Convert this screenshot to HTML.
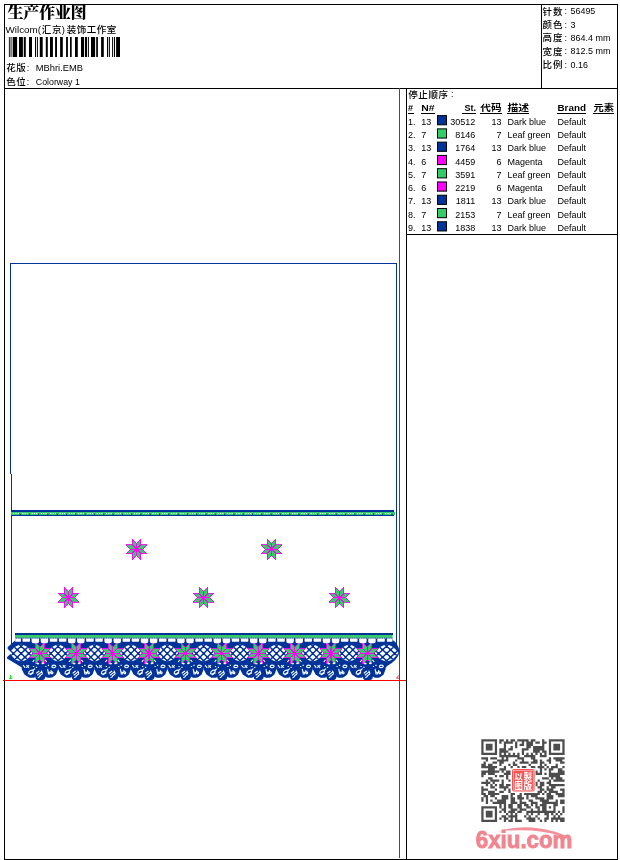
<!DOCTYPE html>
<html lang="zh"><head><meta charset="utf-8"><title>生产作业图</title>
<style>
html,body{margin:0;padding:0;background:#fff}
body{width:620px;height:860px;position:relative;overflow:hidden;font-family:"Liberation Sans","Noto Sans CJK SC",sans-serif}
svg.pg{position:absolute;left:0;top:0;font-family:"Liberation Sans","Noto Sans CJK SC",sans-serif}
svg.pg .ttl{font-family:"Liberation Serif","Noto Serif CJK SC",serif}
</style></head><body>
<svg width="620" height="860" viewBox="0 0 620 860" class="pg" fill="#000"><g shape-rendering="crispEdges" fill="none" stroke-width="1">
<rect x="4.5" y="4.5" width="613" height="855" stroke="#000"/>
<path d="M4 88.5H618M541.5 4V88M406.5 88V859M406 234.5H618" stroke="#000"/>
<path d="M399.5 88V858M3 680.5H406" stroke="#ff0000"/>
<path d="M10.5 474V263M10 263.5H397M396.5 263V650" stroke="#003399"/>
<path d="M11.5 474V644" stroke="#003399"/>
</g>
<defs>
<g id="star" shape-rendering="crispEdges"><path d="M0 0L6.25 0.00L10.67 4.42L4.42 4.42ZM0 0L4.42 4.42L4.42 10.67L0.00 6.25ZM0 0L0.00 6.25L-4.42 10.67L-4.42 4.42ZM0 0L-4.42 4.42L-10.67 4.42L-6.25 0.00ZM0 0L-6.25 0.00L-10.67 -4.42L-4.42 -4.42ZM0 0L-4.42 -4.42L-4.42 -10.67L-0.00 -6.25ZM0 0L-0.00 -6.25L4.42 -10.67L4.42 -4.42ZM0 0L4.42 -4.42L10.67 -4.42L6.25 -0.00Z" fill="#33cc66" stroke="#ff00ff" stroke-width="0.9" stroke-linejoin="miter"/><path d="M0 0L5.62 0.00M0 0L3.98 3.98M0 0L0.00 5.62M0 0L-3.98 3.98M0 0L-5.62 0.00M0 0L-3.98 -3.98M0 0L-0.00 -5.62M0 0L3.98 -3.98" stroke="#ff00ff" stroke-width="1.15" fill="none"/></g>
<clipPath id="lc"><path d="M-10.9 0C-7.85 -4.26 -4.58 -8.2 0 -8.2C4.58 -8.2 7.85 -4.26 10.9 0C7.85 4.26 4.58 8.2 0 8.2C-4.58 8.2 -7.85 4.26 -10.9 0Z"/></clipPath>
<g id="lens"><path d="M-10.9 0C-7.85 -4.26 -4.58 -8.2 0 -8.2C4.58 -8.2 7.85 -4.26 10.9 0C7.85 4.26 4.58 8.2 0 8.2C-4.58 8.2 -7.85 4.26 -10.9 0Z" fill="#fff"/><g clip-path="url(#lc)" stroke="#003399" stroke-width="1.4" fill="#003399"><path d="M-34.40 -12.00L-10.40 12.00M-9.40 -12.00L-33.40 12.00M-27.10 -12.00L-3.10 12.00M-2.10 -12.00L-26.10 12.00M-19.80 -12.00L4.20 12.00M5.20 -12.00L-18.80 12.00M-12.50 -12.00L11.50 12.00M12.50 -12.00L-11.50 12.00M-5.20 -12.00L18.80 12.00M19.80 -12.00L-4.20 12.00M2.10 -12.00L26.10 12.00M27.10 -12.00L3.10 12.00M9.40 -12.00L33.40 12.00M34.40 -12.00L10.40 12.00" fill="none"/><path d="M-23.05 -0.65h2.3v2.3h-2.3zM-19.40 -4.30h2.3v2.3h-2.3zM-15.75 -7.95h2.3v2.3h-2.3zM-12.10 -11.60h2.3v2.3h-2.3zM-8.45 -15.25h2.3v2.3h-2.3zM-4.80 -18.90h2.3v2.3h-2.3zM-1.15 -22.55h2.3v2.3h-2.3zM-19.40 3.00h2.3v2.3h-2.3zM-15.75 -0.65h2.3v2.3h-2.3zM-12.10 -4.30h2.3v2.3h-2.3zM-8.45 -7.95h2.3v2.3h-2.3zM-4.80 -11.60h2.3v2.3h-2.3zM-1.15 -15.25h2.3v2.3h-2.3zM2.50 -18.90h2.3v2.3h-2.3zM-15.75 6.65h2.3v2.3h-2.3zM-12.10 3.00h2.3v2.3h-2.3zM-8.45 -0.65h2.3v2.3h-2.3zM-4.80 -4.30h2.3v2.3h-2.3zM-1.15 -7.95h2.3v2.3h-2.3zM2.50 -11.60h2.3v2.3h-2.3zM6.15 -15.25h2.3v2.3h-2.3zM-12.10 10.30h2.3v2.3h-2.3zM-8.45 6.65h2.3v2.3h-2.3zM-4.80 3.00h2.3v2.3h-2.3zM-1.15 -0.65h2.3v2.3h-2.3zM2.50 -4.30h2.3v2.3h-2.3zM6.15 -7.95h2.3v2.3h-2.3zM9.80 -11.60h2.3v2.3h-2.3zM-8.45 13.95h2.3v2.3h-2.3zM-4.80 10.30h2.3v2.3h-2.3zM-1.15 6.65h2.3v2.3h-2.3zM2.50 3.00h2.3v2.3h-2.3zM6.15 -0.65h2.3v2.3h-2.3zM9.80 -4.30h2.3v2.3h-2.3zM13.45 -7.95h2.3v2.3h-2.3zM-4.80 17.60h2.3v2.3h-2.3zM-1.15 13.95h2.3v2.3h-2.3zM2.50 10.30h2.3v2.3h-2.3zM6.15 6.65h2.3v2.3h-2.3zM9.80 3.00h2.3v2.3h-2.3zM13.45 -0.65h2.3v2.3h-2.3zM17.10 -4.30h2.3v2.3h-2.3zM-1.15 21.25h2.3v2.3h-2.3zM2.50 17.60h2.3v2.3h-2.3zM6.15 13.95h2.3v2.3h-2.3zM9.80 10.30h2.3v2.3h-2.3zM13.45 6.65h2.3v2.3h-2.3zM17.10 3.00h2.3v2.3h-2.3zM20.75 -0.65h2.3v2.3h-2.3z" stroke="none"/></g></g>
<path id="scal" d="M-18.20 662V669.3L-15.5 674.4L-11.3 677.2Q-10.5 677.7 -9.5 677.7H-6.6Q-5 677.7 -4.7 676.4Q-4.4 680 -1.4 680H2.6Q5.2 680 5.5 676.6Q6 677.7 8 677.7H10.6Q12.2 677.7 13.4 676.7L16.2 674.6L18.20 669.3V662Z" fill="#003399"/>
<g id="unit"><path d="M-8.30 638.6H-0.8V641.2Q-0.8 643.2 -2.8 643.2H-6.30Q-8.30 643.2 -8.30 641.2ZM0.8 638.6H8.30V641.2Q8.30 643.2 6.30 643.2H2.8Q0.8 643.2 0.8 641.2ZM-17.39 638.6H-9.90V641.1Q-9.90 641.7 -10.50 641.7H-16.80Q-17.39 641.7 -17.39 641.1ZM9.90 638.6H17.39V641.1Q17.39 641.7 16.80 641.7H10.50Q9.90 641.7 9.90 641.1Z" fill="#fff" transform="translate(0,-653.3)"/><path d="M-6.9 8.3l1-1.4M5.4 6.9l1.1 1.3M-16.4 12.2l1.4 1.8M-13.4 13.9l2.2-1.6M-13 12.3l1.6 1.8M-6.4 13.2h.1M-3.5 14.1h.1M6 13.2h.1M8.5 12.1h.1M15.6 12.2q-2.4-1-3.4 .4q-.8 1.6 1.4 1.8q1.6 0 2.2-1.2M-11.2 20.2q-.4-2 1.8-3q2.4-1 2.8 .4q.2 1.6-2 2.6q-2.2 .9-2.6 0M-9.6 21.4l2.8-1.6M-6.2 16.4l1 -.8M-3.2 19.6l2.2-1.6M-2.2 21.6l3.6-2.8M-0.4 22.8l2.4-1.8M-1.6 24.2l1.4-1M1.6 17.8l.8 2.2M7.8 16.2l.8 4.4q1.6 .6 1.6-1q-.2-1.2-1.6-.6M11.2 17.4q-.6 1.8 .6 3q1.4 .2 1.2-1.2q-.4-1-1.6-.6" stroke="#fff" stroke-width="1.1" fill="none" stroke-linecap="square"/><path d="M-3.6 9.7l1-.5 1.6 .4 .3 1.1-1.2 .5-1.6-.5zM1.5 10.2l.4-1 1.6-.3 .8 .6-.4 1.1-1.6 .3z" fill="#fff"/></g>
</defs>
<g shape-rendering="crispEdges">
<rect x="11" y="510" width="383" height="2" fill="#003399"/>
<rect x="11" y="512" width="384" height="3" fill="#33cc66"/>
<rect x="11" y="515" width="383" height="1" fill="#003399"/>
</g>
<path d="M13 513.5H394" stroke="#fff" stroke-width="1" stroke-dasharray="1.1 1.25 1.1 1.25 1.1 3.5" fill="none"/>
<path d="M20.6 514V516" stroke="#003399" stroke-width="1" stroke-dasharray="none" fill="none" id="tk"/>
<path d="M20.0 513.6V515.5M29.3 513.6V515.5M38.6 513.6V515.5M47.9 513.6V515.5M57.2 513.6V515.5M66.5 513.6V515.5M75.8 513.6V515.5M85.1 513.6V515.5M94.4 513.6V515.5M103.7 513.6V515.5M113.0 513.6V515.5M122.3 513.6V515.5M131.6 513.6V515.5M140.9 513.6V515.5M150.2 513.6V515.5M159.5 513.6V515.5M168.8 513.6V515.5M178.1 513.6V515.5M187.4 513.6V515.5M196.7 513.6V515.5M206.0 513.6V515.5M215.3 513.6V515.5M224.6 513.6V515.5M233.9 513.6V515.5M243.2 513.6V515.5M252.5 513.6V515.5M261.8 513.6V515.5M271.1 513.6V515.5M280.4 513.6V515.5M289.7 513.6V515.5M299.0 513.6V515.5M308.3 513.6V515.5M317.6 513.6V515.5M326.9 513.6V515.5M336.2 513.6V515.5M345.5 513.6V515.5M354.8 513.6V515.5M364.1 513.6V515.5M373.4 513.6V515.5M382.7 513.6V515.5M392.0 513.6V515.5" stroke="#003399" stroke-width="1" fill="none"/>
<use href="#star" x="136.5" y="549.3"/>
<use href="#star" x="271.5" y="549.3"/>
<use href="#star" x="68.5" y="597.7"/>
<use href="#star" x="203.5" y="597.7"/>
<use href="#star" x="339.5" y="597.7"/>
<g>
<rect x="15" y="633" width="377.6" height="2" fill="#003399" shape-rendering="crispEdges"/>
<rect x="15" y="635" width="377.6" height="2.9" fill="#33cc66"/>
<path d="M15 637.8H392.6V640C395.5 641.5 398.6 645.5 399.7 651.6C398.8 657 394 662.5 387 666L386 667.5H22L7 658.4V657.2L11.5 652.8L7.6 648.8V647.2L15 640.6Z" fill="#003399"/>
<path d="M15 638.25H392.6" stroke="#fff" stroke-width="0.7" stroke-dasharray="0.8 1.5" fill="none"/>
<use href="#scal" x="39.90"/>
<use href="#scal" x="76.29"/>
<use href="#scal" x="112.68"/>
<use href="#scal" x="149.07"/>
<use href="#scal" x="185.46"/>
<use href="#scal" x="221.85"/>
<use href="#scal" x="258.24"/>
<use href="#scal" x="294.63"/>
<use href="#scal" x="331.02"/>
<use href="#scal" x="367.41"/>
<use href="#lens" transform="translate(21.10,653.0) scale(1.06,1)"/>
<use href="#lens" x="58.09" y="653.0"/>
<use href="#lens" x="94.48" y="653.0"/>
<use href="#lens" x="130.88" y="653.0"/>
<use href="#lens" x="167.26" y="653.0"/>
<use href="#lens" x="203.65" y="653.0"/>
<use href="#lens" x="240.05" y="653.0"/>
<use href="#lens" x="276.44" y="653.0"/>
<use href="#lens" x="312.82" y="653.0"/>
<use href="#lens" x="349.21" y="653.0"/>
<use href="#lens" transform="translate(386.60,653.0) scale(1.09,1)"/>
<path d="M15.2 638.6H20.9V641.7H15.2zM386.9 638.6H392.4V641.7H386.9z" fill="#fff"/>
<use href="#star" x="39.90" y="653.3"/>
<use href="#unit" x="39.90" y="653.3"/>
<use href="#star" x="76.29" y="653.3"/>
<use href="#unit" x="76.29" y="653.3"/>
<use href="#star" x="112.68" y="653.3"/>
<use href="#unit" x="112.68" y="653.3"/>
<use href="#star" x="149.07" y="653.3"/>
<use href="#unit" x="149.07" y="653.3"/>
<use href="#star" x="185.46" y="653.3"/>
<use href="#unit" x="185.46" y="653.3"/>
<use href="#star" x="221.85" y="653.3"/>
<use href="#unit" x="221.85" y="653.3"/>
<use href="#star" x="258.24" y="653.3"/>
<use href="#unit" x="258.24" y="653.3"/>
<use href="#star" x="294.63" y="653.3"/>
<use href="#unit" x="294.63" y="653.3"/>
<use href="#star" x="331.02" y="653.3"/>
<use href="#unit" x="331.02" y="653.3"/>
<use href="#star" x="367.41" y="653.3"/>
<use href="#unit" x="367.41" y="653.3"/>
<path d="M10.5 675V678.5M9 678.5H12.2" stroke="#00ff00" stroke-width="1" fill="none" shape-rendering="crispEdges"/>
<path d="M398.8 675.4L396.6 678.2H399" stroke="#ff0000" stroke-width="0.8" fill="none"/>
</g>
<g class="cj">
<text x="7.5" y="18.2" font-size="16.2" font-weight="900" letter-spacing="-0.45" class="ttl">生产作业图</text>
<text x="5.6" y="33" font-size="9.5" textLength="35.4" lengthAdjust="spacingAndGlyphs">Wilcom(</text>
<text x="41.7" y="33" font-size="9.5" font-weight="500" letter-spacing="0.80">汇京</text>
<text x="61.8" y="33" font-size="9.5">)</text>
<text x="66.8" y="33" font-size="9.5" font-weight="500" letter-spacing="0.50">装饰工作室</text>
<text x="6.3" y="71.3" font-size="9.5" font-weight="500" letter-spacing="0.50">花版</text>
<text x="26.8" y="70.9" font-size="9">:</text>
<text x="35.8" y="70.9" font-size="9" textLength="47.2" lengthAdjust="spacingAndGlyphs">MBhri.EMB</text>
<text x="6.3" y="85" font-size="9.5" font-weight="500" letter-spacing="0.50">色位</text>
<text x="26.8" y="84.6" font-size="9">:</text>
<text x="35.8" y="84.6" font-size="9" textLength="44" lengthAdjust="spacingAndGlyphs">Colorway 1</text>
<text x="542.5" y="14.5" font-size="9.5" font-weight="500" letter-spacing="0.90">针数</text>
<text x="564.5" y="14.2" font-size="9">:</text>
<text x="570.6" y="14.2" font-size="9" textLength="24.7" lengthAdjust="spacingAndGlyphs">56495</text>
<text x="542.5" y="27.8" font-size="9.5" font-weight="500" letter-spacing="0.90">颜色</text>
<text x="564.5" y="27.5" font-size="9">:</text>
<text x="570.6" y="27.5" font-size="9">3</text>
<text x="542.5" y="41.2" font-size="9.5" font-weight="500" letter-spacing="0.90">高度</text>
<text x="564.5" y="40.9" font-size="9">:</text>
<text x="570.6" y="40.9" font-size="9" textLength="39.9" lengthAdjust="spacingAndGlyphs">864.4 mm</text>
<text x="542.5" y="54.5" font-size="9.5" font-weight="500" letter-spacing="0.90">宽度</text>
<text x="564.5" y="54.2" font-size="9">:</text>
<text x="570.6" y="54.2" font-size="9" textLength="39.9" lengthAdjust="spacingAndGlyphs">812.5 mm</text>
<text x="542.5" y="67.8" font-size="9.5" font-weight="500" letter-spacing="0.90">比例</text>
<text x="564.5" y="67.5" font-size="9">:</text>
<text x="570.6" y="67.5" font-size="9" textLength="17.4" lengthAdjust="spacingAndGlyphs">0.16</text>
</g>
<path d="M8.9 37H9.8V57H8.9ZM10.6 37H11.5V57H10.6ZM12.7 37H17.1V57H12.7ZM19.0 37H22.9V57H19.0ZM23.8 37H25.8V57H23.8ZM29.0 37H32.0V57H29.0ZM35.0 37H36.0V57H35.0ZM36.9 37H37.9V57H36.9ZM39.8 37H42.7V57H39.8ZM45.8 37H47.8V57H45.8ZM50.0 37H52.9V57H50.0ZM55.1 37H57.0V57H55.1ZM60.1 37H62.8V57H60.1ZM66.1 37H67.9V57H66.1ZM70.0 37H71.7V57H70.0ZM75.0 37H77.8V57H75.0ZM81.0 37H84.1V57H81.0ZM85.0 37H87.0V57H85.0ZM87.9 37H88.9V57H87.9ZM91.0 37H95.1V57H91.0ZM96.2 37H97.9V57H96.2ZM101.1 37H103.8V57H101.1ZM107.0 37H108.0V57H107.0ZM108.8 37H109.9V57H108.8ZM112.1 37H113.1V57H112.1ZM114.0 37H115.0V57H114.0ZM116.1 37H120.0V57H116.1Z" fill="#000"/>
<g class="cj">
<text x="408.2" y="97.6" font-size="9.5" font-weight="500" letter-spacing="0.60">停止顺序</text>
<text x="451" y="97.2" font-size="9">:</text>
<g font-weight="bold">
<text x="408" y="111" font-size="9">#</text>
<text x="421.2" y="111" font-size="9" textLength="13.3" lengthAdjust="spacingAndGlyphs">N#</text>
<text x="476" y="111" font-size="9" text-anchor="end">St.</text>
<text x="480.3" y="111" font-size="9" textLength="21.3" lengthAdjust="spacingAndGlyphs">代码</text>
<text x="507.4" y="111" font-size="9" textLength="21.6" lengthAdjust="spacingAndGlyphs">描述</text>
<text x="557.5" y="111" font-size="9" textLength="28.5" lengthAdjust="spacingAndGlyphs">Brand</text>
<text x="593.5" y="111" font-size="9" textLength="20.5" lengthAdjust="spacingAndGlyphs">元素</text>
</g>
<path d="M408 113.5H414M421 113.5H435M462 113.5H476M480 113.5H502M507 113.5H529M557 113.5H586M593 113.5H614" stroke="#000" stroke-width="1" shape-rendering="crispEdges"/>
<text x="408" y="124.8" font-size="9">1.</text>
<text x="421.2" y="124.8" font-size="9">13</text>
<rect x="437.5" y="115.60" width="9" height="9.2" fill="#003399" stroke="#000" stroke-width="1"/>
<text x="475.2" y="124.8" font-size="9" text-anchor="end">30512</text>
<text x="501.4" y="124.8" font-size="9" text-anchor="end">13</text>
<text x="507.4" y="124.8" font-size="9">Dark blue</text>
<text x="557.5" y="124.8" font-size="9">Default</text>
<text x="408" y="138.1" font-size="9">2.</text>
<text x="421.2" y="138.1" font-size="9">7</text>
<rect x="437.5" y="128.87" width="9" height="9.2" fill="#33cc66" stroke="#000" stroke-width="1"/>
<text x="475.2" y="138.1" font-size="9" text-anchor="end">8146</text>
<text x="501.4" y="138.1" font-size="9" text-anchor="end">7</text>
<text x="507.4" y="138.1" font-size="9">Leaf green</text>
<text x="557.5" y="138.1" font-size="9">Default</text>
<text x="408" y="151.3" font-size="9">3.</text>
<text x="421.2" y="151.3" font-size="9">13</text>
<rect x="437.5" y="142.14" width="9" height="9.2" fill="#003399" stroke="#000" stroke-width="1"/>
<text x="475.2" y="151.3" font-size="9" text-anchor="end">1764</text>
<text x="501.4" y="151.3" font-size="9" text-anchor="end">13</text>
<text x="507.4" y="151.3" font-size="9">Dark blue</text>
<text x="557.5" y="151.3" font-size="9">Default</text>
<text x="408" y="164.6" font-size="9">4.</text>
<text x="421.2" y="164.6" font-size="9">6</text>
<rect x="437.5" y="155.41" width="9" height="9.2" fill="#ff00ff" stroke="#000" stroke-width="1"/>
<text x="475.2" y="164.6" font-size="9" text-anchor="end">4459</text>
<text x="501.4" y="164.6" font-size="9" text-anchor="end">6</text>
<text x="507.4" y="164.6" font-size="9">Magenta</text>
<text x="557.5" y="164.6" font-size="9">Default</text>
<text x="408" y="177.8" font-size="9">5.</text>
<text x="421.2" y="177.8" font-size="9">7</text>
<rect x="437.5" y="168.68" width="9" height="9.2" fill="#33cc66" stroke="#000" stroke-width="1"/>
<text x="475.2" y="177.8" font-size="9" text-anchor="end">3591</text>
<text x="501.4" y="177.8" font-size="9" text-anchor="end">7</text>
<text x="507.4" y="177.8" font-size="9">Leaf green</text>
<text x="557.5" y="177.8" font-size="9">Default</text>
<text x="408" y="191.1" font-size="9">6.</text>
<text x="421.2" y="191.1" font-size="9">6</text>
<rect x="437.5" y="181.95" width="9" height="9.2" fill="#ff00ff" stroke="#000" stroke-width="1"/>
<text x="475.2" y="191.1" font-size="9" text-anchor="end">2219</text>
<text x="501.4" y="191.1" font-size="9" text-anchor="end">6</text>
<text x="507.4" y="191.1" font-size="9">Magenta</text>
<text x="557.5" y="191.1" font-size="9">Default</text>
<text x="408" y="204.4" font-size="9">7.</text>
<text x="421.2" y="204.4" font-size="9">13</text>
<rect x="437.5" y="195.22" width="9" height="9.2" fill="#003399" stroke="#000" stroke-width="1"/>
<text x="475.2" y="204.4" font-size="9" text-anchor="end">1811</text>
<text x="501.4" y="204.4" font-size="9" text-anchor="end">13</text>
<text x="507.4" y="204.4" font-size="9">Dark blue</text>
<text x="557.5" y="204.4" font-size="9">Default</text>
<text x="408" y="217.6" font-size="9">8.</text>
<text x="421.2" y="217.6" font-size="9">7</text>
<rect x="437.5" y="208.49" width="9" height="9.2" fill="#33cc66" stroke="#000" stroke-width="1"/>
<text x="475.2" y="217.6" font-size="9" text-anchor="end">2153</text>
<text x="501.4" y="217.6" font-size="9" text-anchor="end">7</text>
<text x="507.4" y="217.6" font-size="9">Leaf green</text>
<text x="557.5" y="217.6" font-size="9">Default</text>
<text x="408" y="230.9" font-size="9">9.</text>
<text x="421.2" y="230.9" font-size="9">13</text>
<rect x="437.5" y="221.76" width="9" height="9.2" fill="#003399" stroke="#000" stroke-width="1"/>
<text x="475.2" y="230.9" font-size="9" text-anchor="end">1838</text>
<text x="501.4" y="230.9" font-size="9" text-anchor="end">13</text>
<text x="507.4" y="230.9" font-size="9">Dark blue</text>
<text x="557.5" y="230.9" font-size="9">Default</text>
</g>
<path d="M481.30 739.30h15.76v2.23h-15.76zM499.31 739.30h4.50v2.23h-4.50zM506.06 739.30h2.25v2.23h-2.25zM510.57 739.30h4.50v2.23h-4.50zM517.32 739.30h11.26v2.23h-11.26zM530.83 739.30h4.50v2.23h-4.50zM542.09 739.30h2.25v2.23h-2.25zM548.84 739.30h15.76v2.23h-15.76zM481.30 741.53h2.25v2.23h-2.25zM494.81 741.53h2.25v2.23h-2.25zM499.31 741.53h2.25v2.23h-2.25zM503.81 741.53h9.01v2.23h-9.01zM515.07 741.53h2.25v2.23h-2.25zM521.82 741.53h2.25v2.23h-2.25zM526.33 741.53h6.75v2.23h-6.75zM535.33 741.53h4.50v2.23h-4.50zM542.09 741.53h4.50v2.23h-4.50zM548.84 741.53h2.25v2.23h-2.25zM562.35 741.53h2.25v2.23h-2.25zM481.30 743.76h2.25v2.23h-2.25zM485.80 743.76h6.75v2.23h-6.75zM494.81 743.76h2.25v2.23h-2.25zM503.81 743.76h2.25v2.23h-2.25zM515.07 743.76h2.25v2.23h-2.25zM519.57 743.76h4.50v2.23h-4.50zM526.33 743.76h6.75v2.23h-6.75zM542.09 743.76h2.25v2.23h-2.25zM548.84 743.76h2.25v2.23h-2.25zM553.34 743.76h6.75v2.23h-6.75zM562.35 743.76h2.25v2.23h-2.25zM481.30 746.00h2.25v2.23h-2.25zM485.80 746.00h6.75v2.23h-6.75zM494.81 746.00h2.25v2.23h-2.25zM503.81 746.00h2.25v2.23h-2.25zM510.57 746.00h2.25v2.23h-2.25zM515.07 746.00h2.25v2.23h-2.25zM526.33 746.00h4.50v2.23h-4.50zM533.08 746.00h11.26v2.23h-11.26zM548.84 746.00h2.25v2.23h-2.25zM553.34 746.00h6.75v2.23h-6.75zM562.35 746.00h2.25v2.23h-2.25zM481.30 748.23h2.25v2.23h-2.25zM485.80 748.23h6.75v2.23h-6.75zM494.81 748.23h2.25v2.23h-2.25zM499.31 748.23h6.75v2.23h-6.75zM508.32 748.23h4.50v2.23h-4.50zM521.82 748.23h6.75v2.23h-6.75zM533.08 748.23h11.26v2.23h-11.26zM548.84 748.23h2.25v2.23h-2.25zM553.34 748.23h6.75v2.23h-6.75zM562.35 748.23h2.25v2.23h-2.25zM481.30 750.46h2.25v2.23h-2.25zM494.81 750.46h2.25v2.23h-2.25zM499.31 750.46h9.01v2.23h-9.01zM521.82 750.46h2.25v2.23h-2.25zM533.08 750.46h6.75v2.23h-6.75zM542.09 750.46h4.50v2.23h-4.50zM548.84 750.46h2.25v2.23h-2.25zM562.35 750.46h2.25v2.23h-2.25zM481.30 752.69h15.76v2.23h-15.76zM499.31 752.69h2.25v2.23h-2.25zM503.81 752.69h2.25v2.23h-2.25zM508.32 752.69h2.25v2.23h-2.25zM512.82 752.69h2.25v2.23h-2.25zM517.32 752.69h2.25v2.23h-2.25zM521.82 752.69h2.25v2.23h-2.25zM526.33 752.69h2.25v2.23h-2.25zM530.83 752.69h2.25v2.23h-2.25zM535.33 752.69h2.25v2.23h-2.25zM539.84 752.69h2.25v2.23h-2.25zM544.34 752.69h2.25v2.23h-2.25zM548.84 752.69h15.76v2.23h-15.76zM499.31 754.93h20.26v2.23h-20.26zM524.08 754.93h11.26v2.23h-11.26zM539.84 754.93h6.75v2.23h-6.75zM481.30 757.16h6.75v2.23h-6.75zM490.31 757.16h6.75v2.23h-6.75zM501.56 757.16h2.25v2.23h-2.25zM506.06 757.16h2.25v2.23h-2.25zM517.32 757.16h6.75v2.23h-6.75zM530.83 757.16h4.50v2.23h-4.50zM548.84 757.16h2.25v2.23h-2.25zM553.34 757.16h11.26v2.23h-11.26zM485.80 759.39h2.25v2.23h-2.25zM497.06 759.39h11.26v2.23h-11.26zM515.07 759.39h2.25v2.23h-2.25zM521.82 759.39h2.25v2.23h-2.25zM533.08 759.39h4.50v2.23h-4.50zM539.84 759.39h2.25v2.23h-2.25zM546.59 759.39h4.50v2.23h-4.50zM555.59 759.39h6.75v2.23h-6.75zM483.55 761.62h2.25v2.23h-2.25zM492.56 761.62h4.50v2.23h-4.50zM499.31 761.62h4.50v2.23h-4.50zM512.82 761.62h2.25v2.23h-2.25zM519.57 761.62h9.01v2.23h-9.01zM530.83 761.62h6.75v2.23h-6.75zM539.84 761.62h4.50v2.23h-4.50zM548.84 761.62h2.25v2.23h-2.25zM560.10 761.62h4.50v2.23h-4.50zM481.30 763.86h4.50v2.23h-4.50zM488.05 763.86h4.50v2.23h-4.50zM499.31 763.86h2.25v2.23h-2.25zM508.32 763.86h2.25v2.23h-2.25zM512.82 763.86h4.50v2.23h-4.50zM528.58 763.86h2.25v2.23h-2.25zM539.84 763.86h2.25v2.23h-2.25zM544.34 763.86h2.25v2.23h-2.25zM555.59 763.86h2.25v2.23h-2.25zM481.30 766.09h15.76v2.23h-15.76zM503.81 766.09h2.25v2.23h-2.25zM510.57 766.09h2.25v2.23h-2.25zM517.32 766.09h2.25v2.23h-2.25zM521.82 766.09h4.50v2.23h-4.50zM530.83 766.09h4.50v2.23h-4.50zM537.58 766.09h6.75v2.23h-6.75zM546.59 766.09h2.25v2.23h-2.25zM551.09 766.09h6.75v2.23h-6.75zM562.35 766.09h2.25v2.23h-2.25zM488.05 768.32h6.75v2.23h-6.75zM499.31 768.32h6.75v2.23h-6.75zM539.84 768.32h2.25v2.23h-2.25zM544.34 768.32h2.25v2.23h-2.25zM548.84 768.32h4.50v2.23h-4.50zM557.85 768.32h4.50v2.23h-4.50zM481.30 770.55h18.01v2.23h-18.01zM501.56 770.55h2.25v2.23h-2.25zM506.06 770.55h4.50v2.23h-4.50zM535.33 770.55h2.25v2.23h-2.25zM539.84 770.55h2.25v2.23h-2.25zM548.84 770.55h2.25v2.23h-2.25zM557.85 770.55h6.75v2.23h-6.75zM481.30 772.79h4.50v2.23h-4.50zM488.05 772.79h6.75v2.23h-6.75zM503.81 772.79h6.75v2.23h-6.75zM535.33 772.79h6.75v2.23h-6.75zM544.34 772.79h2.25v2.23h-2.25zM548.84 772.79h15.76v2.23h-15.76zM481.30 775.02h2.25v2.23h-2.25zM494.81 775.02h2.25v2.23h-2.25zM499.31 775.02h4.50v2.23h-4.50zM506.06 775.02h2.25v2.23h-2.25zM548.84 775.02h11.26v2.23h-11.26zM488.05 777.25h4.50v2.23h-4.50zM506.06 777.25h2.25v2.23h-2.25zM542.09 777.25h6.75v2.23h-6.75zM551.09 777.25h2.25v2.23h-2.25zM555.59 777.25h6.75v2.23h-6.75zM485.80 779.48h2.25v2.23h-2.25zM490.31 779.48h9.01v2.23h-9.01zM501.56 779.48h2.25v2.23h-2.25zM508.32 779.48h2.25v2.23h-2.25zM537.58 779.48h2.25v2.23h-2.25zM548.84 779.48h2.25v2.23h-2.25zM553.34 779.48h11.26v2.23h-11.26zM481.30 781.72h9.01v2.23h-9.01zM492.56 781.72h2.25v2.23h-2.25zM501.56 781.72h2.25v2.23h-2.25zM535.33 781.72h2.25v2.23h-2.25zM539.84 781.72h4.50v2.23h-4.50zM546.59 781.72h4.50v2.23h-4.50zM485.80 783.95h2.25v2.23h-2.25zM490.31 783.95h2.25v2.23h-2.25zM494.81 783.95h2.25v2.23h-2.25zM499.31 783.95h4.50v2.23h-4.50zM506.06 783.95h4.50v2.23h-4.50zM535.33 783.95h2.25v2.23h-2.25zM539.84 783.95h4.50v2.23h-4.50zM548.84 783.95h15.76v2.23h-15.76zM481.30 786.18h2.25v2.23h-2.25zM490.31 786.18h4.50v2.23h-4.50zM499.31 786.18h9.01v2.23h-9.01zM537.58 786.18h4.50v2.23h-4.50zM546.59 786.18h2.25v2.23h-2.25zM551.09 786.18h4.50v2.23h-4.50zM481.30 788.41h6.75v2.23h-6.75zM494.81 788.41h2.25v2.23h-2.25zM503.81 788.41h2.25v2.23h-2.25zM508.32 788.41h2.25v2.23h-2.25zM539.84 788.41h4.50v2.23h-4.50zM546.59 788.41h6.75v2.23h-6.75zM560.10 788.41h4.50v2.23h-4.50zM481.30 790.65h2.25v2.23h-2.25zM488.05 790.65h6.75v2.23h-6.75zM499.31 790.65h4.50v2.23h-4.50zM508.32 790.65h2.25v2.23h-2.25zM537.58 790.65h4.50v2.23h-4.50zM544.34 790.65h2.25v2.23h-2.25zM548.84 790.65h9.01v2.23h-9.01zM562.35 790.65h2.25v2.23h-2.25zM481.30 792.88h4.50v2.23h-4.50zM488.05 792.88h11.26v2.23h-11.26zM510.57 792.88h4.50v2.23h-4.50zM519.57 792.88h2.25v2.23h-2.25zM524.08 792.88h15.76v2.23h-15.76zM542.09 792.88h2.25v2.23h-2.25zM546.59 792.88h4.50v2.23h-4.50zM555.59 792.88h9.01v2.23h-9.01zM483.55 795.11h4.50v2.23h-4.50zM490.31 795.11h4.50v2.23h-4.50zM501.56 795.11h6.75v2.23h-6.75zM510.57 795.11h2.25v2.23h-2.25zM517.32 795.11h4.50v2.23h-4.50zM526.33 795.11h2.25v2.23h-2.25zM530.83 795.11h6.75v2.23h-6.75zM546.59 795.11h6.75v2.23h-6.75zM557.85 795.11h6.75v2.23h-6.75zM481.30 797.34h2.25v2.23h-2.25zM485.80 797.34h2.25v2.23h-2.25zM494.81 797.34h2.25v2.23h-2.25zM501.56 797.34h6.75v2.23h-6.75zM510.57 797.34h4.50v2.23h-4.50zM517.32 797.34h6.75v2.23h-6.75zM526.33 797.34h2.25v2.23h-2.25zM535.33 797.34h9.01v2.23h-9.01zM546.59 797.34h6.75v2.23h-6.75zM481.30 799.58h2.25v2.23h-2.25zM485.80 799.58h2.25v2.23h-2.25zM490.31 799.58h2.25v2.23h-2.25zM497.06 799.58h9.01v2.23h-9.01zM510.57 799.58h4.50v2.23h-4.50zM519.57 799.58h2.25v2.23h-2.25zM528.58 799.58h4.50v2.23h-4.50zM539.84 799.58h9.01v2.23h-9.01zM555.59 799.58h2.25v2.23h-2.25zM560.10 799.58h4.50v2.23h-4.50zM485.80 801.81h2.25v2.23h-2.25zM492.56 801.81h13.51v2.23h-13.51zM510.57 801.81h6.75v2.23h-6.75zM519.57 801.81h6.75v2.23h-6.75zM530.83 801.81h6.75v2.23h-6.75zM542.09 801.81h15.76v2.23h-15.76zM560.10 801.81h4.50v2.23h-4.50zM499.31 804.04h2.25v2.23h-2.25zM503.81 804.04h2.25v2.23h-2.25zM508.32 804.04h4.50v2.23h-4.50zM517.32 804.04h4.50v2.23h-4.50zM524.08 804.04h4.50v2.23h-4.50zM530.83 804.04h2.25v2.23h-2.25zM535.33 804.04h2.25v2.23h-2.25zM539.84 804.04h6.75v2.23h-6.75zM553.34 804.04h4.50v2.23h-4.50zM481.30 806.27h15.76v2.23h-15.76zM499.31 806.27h2.25v2.23h-2.25zM503.81 806.27h2.25v2.23h-2.25zM508.32 806.27h4.50v2.23h-4.50zM517.32 806.27h4.50v2.23h-4.50zM526.33 806.27h4.50v2.23h-4.50zM535.33 806.27h4.50v2.23h-4.50zM542.09 806.27h4.50v2.23h-4.50zM548.84 806.27h2.25v2.23h-2.25zM553.34 806.27h2.25v2.23h-2.25zM562.35 806.27h2.25v2.23h-2.25zM481.30 808.51h2.25v2.23h-2.25zM494.81 808.51h2.25v2.23h-2.25zM501.56 808.51h4.50v2.23h-4.50zM510.57 808.51h6.75v2.23h-6.75zM519.57 808.51h6.75v2.23h-6.75zM530.83 808.51h2.25v2.23h-2.25zM537.58 808.51h2.25v2.23h-2.25zM542.09 808.51h4.50v2.23h-4.50zM553.34 808.51h2.25v2.23h-2.25zM562.35 808.51h2.25v2.23h-2.25zM481.30 810.74h2.25v2.23h-2.25zM485.80 810.74h6.75v2.23h-6.75zM494.81 810.74h2.25v2.23h-2.25zM499.31 810.74h2.25v2.23h-2.25zM503.81 810.74h2.25v2.23h-2.25zM508.32 810.74h6.75v2.23h-6.75zM517.32 810.74h4.50v2.23h-4.50zM526.33 810.74h29.27v2.23h-29.27zM557.85 810.74h2.25v2.23h-2.25zM562.35 810.74h2.25v2.23h-2.25zM481.30 812.97h2.25v2.23h-2.25zM485.80 812.97h6.75v2.23h-6.75zM494.81 812.97h2.25v2.23h-2.25zM506.06 812.97h2.25v2.23h-2.25zM510.57 812.97h2.25v2.23h-2.25zM515.07 812.97h2.25v2.23h-2.25zM526.33 812.97h2.25v2.23h-2.25zM530.83 812.97h2.25v2.23h-2.25zM537.58 812.97h2.25v2.23h-2.25zM544.34 812.97h4.50v2.23h-4.50zM551.09 812.97h2.25v2.23h-2.25zM555.59 812.97h2.25v2.23h-2.25zM560.10 812.97h2.25v2.23h-2.25zM481.30 815.20h2.25v2.23h-2.25zM485.80 815.20h6.75v2.23h-6.75zM494.81 815.20h2.25v2.23h-2.25zM501.56 815.20h4.50v2.23h-4.50zM508.32 815.20h9.01v2.23h-9.01zM524.08 815.20h2.25v2.23h-2.25zM528.58 815.20h2.25v2.23h-2.25zM535.33 815.20h2.25v2.23h-2.25zM546.59 815.20h2.25v2.23h-2.25zM553.34 815.20h2.25v2.23h-2.25zM557.85 815.20h2.25v2.23h-2.25zM481.30 817.44h2.25v2.23h-2.25zM494.81 817.44h2.25v2.23h-2.25zM499.31 817.44h2.25v2.23h-2.25zM503.81 817.44h4.50v2.23h-4.50zM510.57 817.44h2.25v2.23h-2.25zM515.07 817.44h2.25v2.23h-2.25zM526.33 817.44h9.01v2.23h-9.01zM537.58 817.44h2.25v2.23h-2.25zM544.34 817.44h4.50v2.23h-4.50zM551.09 817.44h13.51v2.23h-13.51zM481.30 819.67h15.76v2.23h-15.76zM503.81 819.67h2.25v2.23h-2.25zM508.32 819.67h4.50v2.23h-4.50zM515.07 819.67h6.75v2.23h-6.75zM528.58 819.67h6.75v2.23h-6.75zM539.84 819.67h2.25v2.23h-2.25zM544.34 819.67h2.25v2.23h-2.25zM551.09 819.67h2.25v2.23h-2.25zM555.59 819.67h2.25v2.23h-2.25zM560.10 819.67h4.50v2.23h-4.50z" fill="#4d4d4d"/>
<rect x="511.2" y="768.2" width="24.2" height="24.2" rx="2.5" fill="#fff"/>
<rect x="512" y="769" width="22.6" height="22.6" rx="2" fill="#f55555"/>
<rect x="513.4" y="770.4" width="19.8" height="19.8" fill="none" stroke="#fbd0d0" stroke-width="0.6"/>
<g fill="#fff" font-size="8.6" font-weight="bold" class="seal">
<text x="514.3" y="779.6">以</text><text x="523.6" y="779.6">製</text><text x="514.3" y="788.9">图</text><text x="523.6" y="788.9">版</text>
</g>
<g>
<text x="475.8" y="848.3" font-size="23" font-weight="bold" fill="#fff" stroke="#fff" stroke-width="3" textLength="96.6" lengthAdjust="spacingAndGlyphs">6xiu.com</text>
<path d="M498.5 831.4Q512 826.4 532 827.4Q556 829.2 573.6 840Q556 833 532 830.6Q514 829.4 498.5 831.4Z" fill="#f2909a" stroke="#fff" stroke-width="1.2" paint-order="stroke"/>
<text x="475.8" y="848.3" font-size="23" font-weight="bold" fill="#f2858f" stroke="#f2858f" stroke-width="0.9" textLength="96.6" lengthAdjust="spacingAndGlyphs">6xiu.com</text>
</g></svg>
</body></html>
